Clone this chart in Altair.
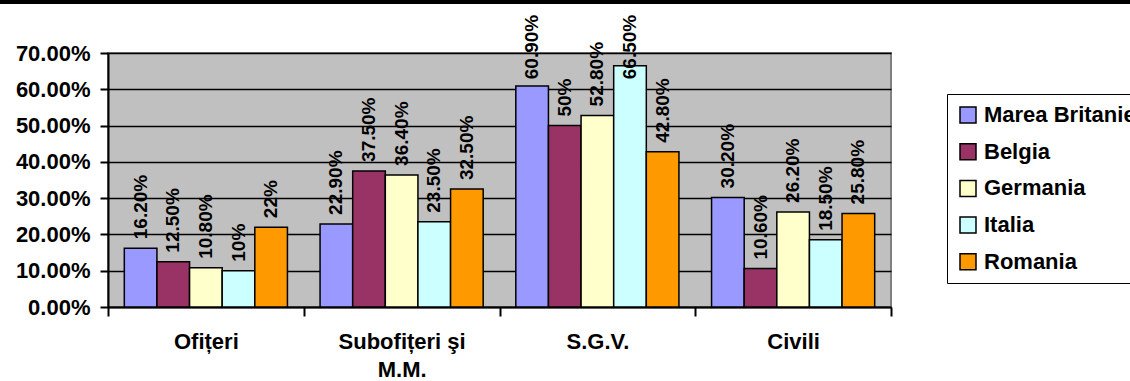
import altair as alt
import pandas as pd

# Categories of personnel (x axis) and countries (series)
categories = ["Ofițeri", "Subofițeri şi\nM.M.", "S.G.V.", "Civili"]
countries = ["Marea Britanie", "Belgia", "Germania", "Italia", "Romania"]
colors = ["#9999FF", "#993366", "#FFFFCC", "#CCFFFF", "#FF9900"]

# Share of each category, in percent
marea_britanie = [16.2, 22.9, 60.9, 30.2]
belgia = [12.5, 37.5, 50.0, 10.6]
germania = [10.8, 36.4, 52.8, 26.2]
italia = [10.0, 23.5, 66.5, 18.5]
romania = [22.0, 32.5, 42.8, 25.8]

y_ticks = [0.0, 0.1, 0.2, 0.3, 0.4, 0.5, 0.6, 0.7]

series = [marea_britanie, belgia, germania, italia, romania]


def pct_label(v):
    return f"{v:.0f}%" if float(v).is_integer() else f"{v:.2f}%"


rows = []
for country, values in zip(countries, series):
    for cat, v in zip(categories, values):
        rows.append({"categorie": cat, "tara": country, "valoare": v / 100.0,
                     "eticheta": pct_label(v)})
df = pd.DataFrame(rows)

FONT = "Liberation Sans"

# Categories fill the whole width; the gap between groups comes from the
# outer padding of the offset scale (half a bar on each side)
x_scale = alt.Scale(paddingInner=0, paddingOuter=0)
xoff_scale = alt.Scale(paddingInner=0, paddingOuter=0.5)
y_scale = alt.Scale(domain=[0, 0.7], nice=False)

x_axis = alt.Axis(
    title=None,
    labelAngle=0,
    tickBand="extent",
    labelExpr="split(datum.label, '\\n')",
    labelFont=FONT,
    labelFontSize=22,
    labelFontWeight="bold",
    labelColor="black",
    labelPadding=15,
    labelLineHeight=28,
    tickSize=9,
    tickColor="black",
    tickWidth=2,
    domainColor="black",
    domainWidth=2,
    grid=False,
)
y_axis = alt.Axis(
    title=None,
    format=".2%",
    values=y_ticks,
    labelOverlap=False,
    labelFont=FONT,
    labelFontSize=22,
    labelFontWeight="bold",
    labelColor="black",
    labelPadding=10,
    tickSize=8,
    tickColor="black",
    tickWidth=2,
    domainColor="black",
    domainWidth=2,
    grid=True,
    gridColor="black",
    gridWidth=1.5,
)

color_enc = alt.Color(
    "tara:N",
    sort=countries,
    scale=alt.Scale(domain=countries, range=colors),
    legend=alt.Legend(
        title=None,
        orient="none",
        legendX=839,
        legendY=41,
        symbolType="square",
        symbolSize=256,
        symbolStrokeColor="black",
        symbolStrokeWidth=1.5,
        labelFont=FONT,
        labelFontSize=22,
        labelFontWeight="bold",
        labelColor="black",
        labelOffset=5,
        labelLimit=0,
        rowPadding=14.7,
        padding=10,
        strokeColor="black",
    ),
)

bars = alt.Chart(df).mark_bar(stroke="black", strokeWidth=1.5).encode(
    x=alt.X("categorie:N", sort=categories, scale=x_scale, axis=x_axis),
    xOffset=alt.XOffset("tara:N", sort=countries, scale=xoff_scale),
    y=alt.Y("valoare:Q", scale=y_scale, axis=y_axis),
    color=color_enc,
)

# Value labels, written upward above each bar; kept inside the chart's top edge
labels = alt.Chart(df).transform_calculate(
    pos="min(datum.valoare, 0.603)"
).mark_text(
    angle=270,
    align="left",
    baseline="middle",
    dx=9,
    font=FONT,
    fontSize=19,
    fontWeight="bold",
    color="black",
).encode(
    x=alt.X("categorie:N", sort=categories, scale=x_scale, axis=x_axis),
    xOffset=alt.XOffset("tara:N", sort=countries, scale=xoff_scale),
    y=alt.Y("pos:Q", scale=y_scale, axis=y_axis),
    text="eticheta:N",
)

# Border line of the surrounding table along the top of the page
top_line = alt.Chart(df).mark_rule(color="black", strokeWidth=2.5).encode(
    x=alt.value(-108), x2=alt.value(1022), y=alt.value(-51)
)
table_ticks = []
for px in [184, 290, 396, 523, 647, 771, 896, 1019]:
    table_ticks.append(
        alt.Chart(df).mark_rule(color="black", strokeWidth=1.5).encode(
            x=alt.value(px - 108), y=alt.value(-53), y2=alt.value(-51)
        )
    )

chart = alt.layer(bars, labels, top_line, *table_ticks).properties(
    width=783,
    height=254,
    autosize=alt.AutoSizeParams(type="none"),
    padding={"left": 108, "top": 53, "right": 239, "bottom": 74},
    background="white",
).configure_view(
    fill="#C0C0C0",
    stroke="#808080",
    strokeWidth=2,
)

chart.save("out.html", embed_options={"renderer": "svg", "actions": False})
